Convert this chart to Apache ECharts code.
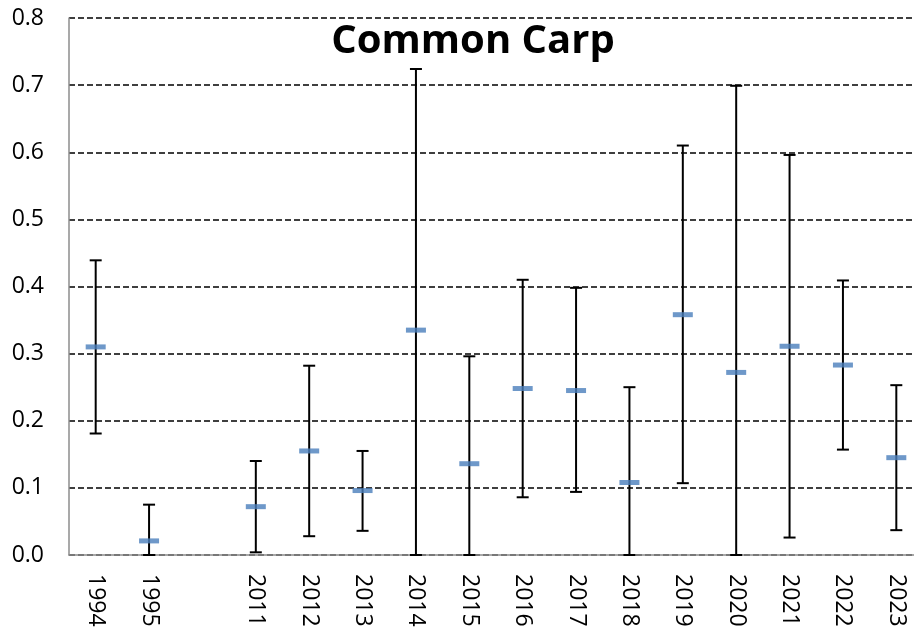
<!DOCTYPE html>
<html>
<head>
<meta charset="utf-8">
<script src="https://cdn.jsdelivr.net/npm/echarts@6/dist/echarts.min.js"></script>
<style>
html,body{margin:0;padding:0;background:#fff;}
#chart{width:914px;height:627px;}
</style>
</head>
<body>
<div id="chart"></div>
<script>
const years = ['1994','1995','','2011','2012','2013','2014','2015','2016','2017','2018','2019','2020','2021','2022','2023'];
const means = [0.310,0.021,null,0.072,0.155,0.096,0.335,0.136,0.248,0.245,0.108,0.358,0.272,0.311,0.283,0.145];
const lower = [0.181,0.000,null,0.004,0.028,0.036,0.000,0.000,0.086,0.094,0.000,0.107,0.000,0.026,0.157,0.037];
const upper = [0.439,0.075,null,0.140,0.282,0.155,0.724,0.296,0.410,0.398,0.250,0.610,0.699,0.596,0.409,0.253];
const yTicks = [0,0.1,0.2,0.3,0.4,0.5,0.6,0.7,0.8];

const errData = [];
const meanData = [];
for (let i = 0; i < years.length; i++) {
  if (means[i] !== null) {
    errData.push([i, lower[i], upper[i]]);
    meanData.push([i, means[i]]);
  }
}

const chart = echarts.init(document.getElementById('chart'), null, {renderer:'canvas'});
const FONT = '"Open Sans", "Liberation Sans", sans-serif';
chart.setOption({
  animation: false,
  backgroundColor: '#fff',
  title: {
    text: 'Common Carp',
    left: 468, top: 17, textAlign: 'center',
    textStyle: {fontFamily: FONT, fontWeight: 'bold', fontSize: 40, color: '#000'}
  },
  grid: {left: 69, right: -9, top: 18, bottom: 72, containLabel: false, outerBoundsMode: 'none'},
  xAxis: {
    type: 'category',
    data: years,
    boundaryGap: true,
    axisLine: {show: true, lineStyle: {color: '#8c8c8c', width: 1.5}},
    axisTick: {show: false},
    axisLabel: {rotate: -90, interval: 0, margin: 19, fontSize: 23, color: '#000', fontFamily: FONT},
    splitLine: {show: false}
  },
  yAxis: {
    type: 'value',
    min: yTicks[0], max: yTicks[yTicks.length-1], interval: 0.1,
    axisLine: {show: true, lineStyle: {color: '#8c8c8c', width: 1.5}},
    axisTick: {show: false},
    axisLabel: {fontSize: 23, color: '#000', margin: 25, fontFamily: FONT,
      formatter: v => v.toFixed(1)},
    splitLine: {show: true, lineStyle: {color: '#000', width: 1.6, type: [6,3]}}
  },
  series: [
    {
      type: 'custom',
      data: errData,
      z: 3,
      renderItem: function(params, api) {
        const x = api.value(0);
        const lo = api.coord([x, api.value(1)]);
        const hi = api.coord([x, api.value(2)]);
        const cw = 6;
        const style = {stroke: '#000', lineWidth: 2};
        return {
          type: 'group',
          children: [
            {type: 'line', shape: {x1: lo[0], y1: lo[1], x2: hi[0], y2: hi[1]}, style: style},
            {type: 'line', shape: {x1: lo[0]-cw, y1: lo[1], x2: lo[0]+cw, y2: lo[1]}, style: style},
            {type: 'line', shape: {x1: hi[0]-cw, y1: hi[1], x2: hi[0]+cw, y2: hi[1]}, style: style}
          ]
        };
      }
    },
    {
      type: 'scatter',
      data: meanData,
      z: 4,
      symbol: 'rect',
      symbolSize: [20, 5],
      itemStyle: {color: '#4a7ebb'}
    }
  ]
});
</script>
</body>
</html>
